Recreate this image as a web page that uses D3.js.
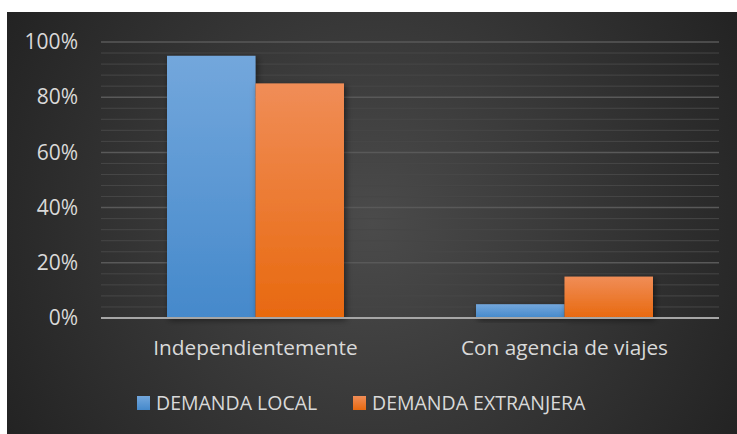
<!DOCTYPE html>
<html><head><meta charset="utf-8">
<script src="https://cdn.jsdelivr.net/npm/d3@7"></script>
<style>html,body{margin:0;padding:0;background:#fff;}svg{display:block;}</style>
</head><body>
<script>
const categories = ["Independientemente", "Con agencia de viajes"];
const seriesNames = ["DEMANDA LOCAL", "DEMANDA EXTRANJERA"];
const demandaLocal = [0.95, 0.05];
const demandaExtranjera = [0.85, 0.15];
const tickValues = [0, 0.2, 0.4, 0.6, 0.8, 1.0];
const tickLabels = ["0%", "20%", "40%", "60%", "80%", "100%"];

const W = 737, H = 434;
const svg = d3.select("body").append("svg").attr("width", W).attr("height", H);
const defs = svg.append("defs");

const bg = defs.append("radialGradient").attr("id", "bg").attr("gradientUnits", "userSpaceOnUse")
  .attr("cx", 372).attr("cy", 223).attr("r", 420);
bg.append("stop").attr("offset", "0").attr("stop-color", "#4b4b4b");
bg.append("stop").attr("offset", "1").attr("stop-color", "#232323");

function barGrad(id, top, bot) {
  const g = defs.append("linearGradient").attr("id", id).attr("x1", 0).attr("y1", 0).attr("x2", 0).attr("y2", 1);
  g.append("stop").attr("offset", "0").attr("stop-color", top);
  g.append("stop").attr("offset", "1").attr("stop-color", bot);
}
barGrad("gBlue", "#73a7dc", "#4589cb");
barGrad("gOrange", "#f08d57", "#e8690f");
const f = defs.append("filter").attr("id", "sh").attr("x", "-20%").attr("y", "-20%").attr("width", "150%").attr("height", "150%");
f.append("feDropShadow").attr("dx", 2).attr("dy", 2).attr("stdDeviation", 3).attr("flood-color", "#000").attr("flood-opacity", 0.5);

svg.append("rect").attr("x", 7).attr("y", 12).attr("width", W - 7).attr("height", H - 12).attr("fill", "url(#bg)");

const x0 = 101, x1 = 719, yTop = 42, yBot = 318;
const y = d3.scaleLinear().domain([0, 1]).range([yBot, yTop]);
const xb = d3.scaleBand().domain(categories).range([x0, x1]).paddingInner(0).paddingOuter(0);
const xs = d3.scaleBand().domain(seriesNames).range([0, xb.bandwidth()]).paddingInner(0).paddingOuter(0.746);

// gridlines
const minor = d3.range(0, 1.0001, 0.04);
const isMajor = d => Math.abs((d * 5) - Math.round(d * 5)) < 1e-6;
svg.append("g").selectAll("line").data(minor).join("line")
  .attr("x1", x0).attr("x2", x1).attr("y1", d => y(d)).attr("y2", d => y(d))
  .attr("stroke", d => isMajor(d) ? "#595959" : "#474747")
  .attr("stroke-width", d => isMajor(d) ? 1.5 : 1);

// y axis labels
const yAxis = d3.axisLeft(y).tickValues(tickValues).tickFormat((d, i) => tickLabels[i]).tickSize(0).tickPadding(23);
const ya = svg.append("g").attr("transform", `translate(${x0},0)`).call(yAxis);
ya.select(".domain").remove();
ya.selectAll("text").attr("fill", "#d9d9d9").style("font-family", "'Open Sans', sans-serif").style("font-size", "21px");

// bars
const data = categories.map((c, i) => ({cat: c, vals: [
  {s: seriesNames[0], v: demandaLocal[i], fill: "url(#gBlue)"},
  {s: seriesNames[1], v: demandaExtranjera[i], fill: "url(#gOrange)"}]}));
const groups = svg.append("g").selectAll("g").data(data).join("g")
  .attr("transform", d => `translate(${xb(d.cat)},0)`);
groups.selectAll("rect").data(d => d.vals).join("rect")
  .attr("x", d => xs(d.s)).attr("width", xs.bandwidth())
  .attr("y", d => y(d.v)).attr("height", d => y(0) - y(d.v))
  .attr("fill", d => d.fill).attr("filter", "url(#sh)");

// zero axis line
svg.append("line").attr("x1", x0).attr("x2", x1).attr("y1", y(0)).attr("y2", y(0))
  .attr("stroke", "#a6a6a6").attr("stroke-width", 2);

// x axis labels
const xAxis = d3.axisBottom(xb).tickSize(0).tickPadding(22);
const xa = svg.append("g").attr("transform", `translate(0,${yBot})`).call(xAxis);
xa.select(".domain").remove();
xa.selectAll("text").attr("fill", "#d9d9d9").style("font-family", "'Open Sans', sans-serif").style("font-size", "20.8px");

// legend
const legendX = [137, 353];
const lg = svg.append("g").selectAll("g").data(seriesNames).join("g")
  .attr("transform", (d, i) => `translate(${legendX[i]},396)`);
lg.append("rect").attr("width", 13).attr("height", 14).attr("fill", (d, i) => i === 0 ? "url(#gBlue)" : "url(#gOrange)");
lg.append("text").attr("x", 19).attr("y", 14).text(d => d).attr("fill", "#d9d9d9")
  .style("font-family", "'Open Sans', sans-serif").style("font-size", "19.5px");
</script>
</body></html>
